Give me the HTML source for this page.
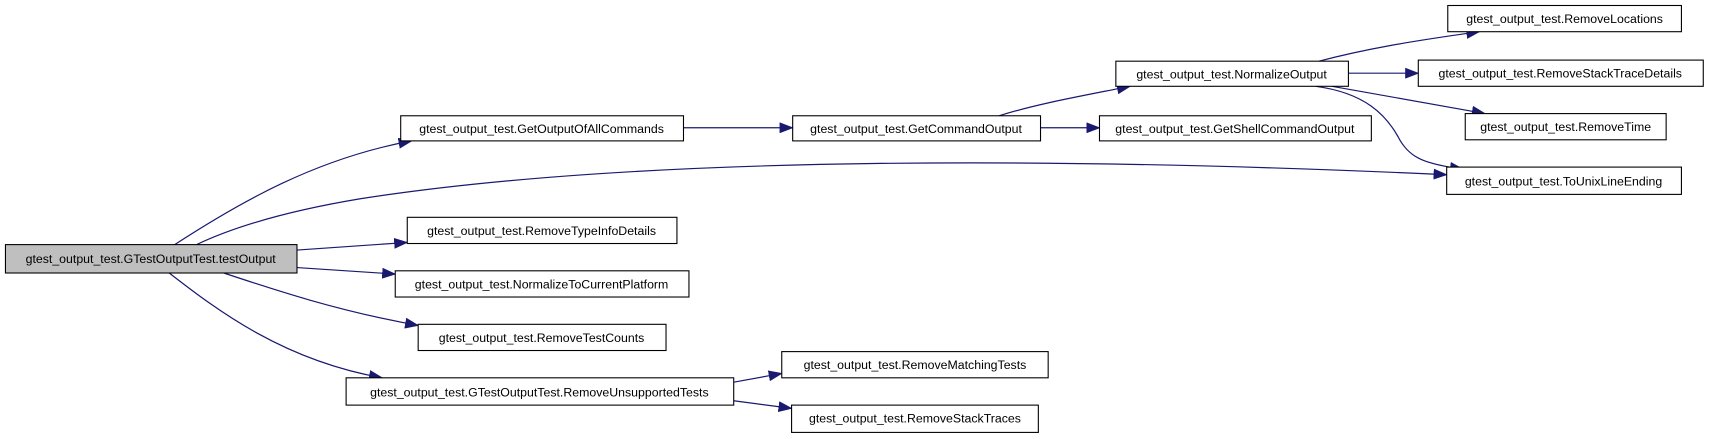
<!DOCTYPE html>
<html><head><meta charset="utf-8"><style>
html,body{margin:0;padding:0;background:#fff;}
svg{display:block;}
text{font-family:"Liberation Sans",sans-serif;font-size:11.3px;fill:#000;}
</style></head><body>
<svg width="1712" height="439" viewBox="0 0 1568 402" xmlns="http://www.w3.org/2000/svg">
<defs><marker id="a" markerWidth="13" markerHeight="10" refX="12" refY="5" orient="auto" markerUnits="userSpaceOnUse"><path d="M0,0 L13,5 L0,10 Z" fill="#191970"/></marker></defs>
<g fill="none" stroke="#191970" stroke-width="1.1" marker-end="url(#a)">
<path d="M160,224 C220,185 290,145 377,129"/>
<path d="M180,224 C220,205 270,192 330,182 C600,140 1000,145 1325,160"/>
<path d="M272,229 L373,222"/>
<path d="M272,245 L362,251"/>
<path d="M205,250 C250,265 310,285 383,298"/>
<path d="M155,250 C200,285 260,330 350,346"/>
<path d="M626,117 L726,117"/>
<path d="M915,106 C950,95 990,88 1035,79"/>
<path d="M953,117 L1007,117"/>
<path d="M1208,56 C1250,45 1290,38 1355,29"/>
<path d="M1235,67 L1299,67"/>
<path d="M1220,79 C1260,86 1300,93 1360,104"/>
<path d="M1205,79 C1250,85 1270,105 1282,128 C1292,145 1305,150 1340,155"/>
<path d="M672,350 L716,342"/>
<path d="M672,367 L725,374"/>
</g>
<g stroke="#000" stroke-width="1" fill="#fff">
<rect x="5" y="224" width="267" height="26" fill="#bfbfbf"/>
<rect x="367" y="106" width="259" height="23"/>
<rect x="726" y="106" width="227" height="23"/>
<rect x="1022" y="56" width="213" height="23"/>
<rect x="1007" y="106" width="249" height="23"/>
<rect x="1326" y="5" width="214" height="24"/>
<rect x="1299" y="55" width="261" height="24"/>
<rect x="1342" y="104" width="184" height="24"/>
<rect x="1325" y="153" width="215" height="25"/>
<rect x="373" y="199" width="247" height="24"/>
<rect x="362" y="248" width="269" height="24"/>
<rect x="383" y="297" width="227" height="24"/>
<rect x="317" y="346" width="355" height="25"/>
<rect x="716" y="322" width="244" height="24"/>
<rect x="725" y="371" width="226" height="25"/>
</g>
<g text-anchor="middle">
<text x="138" y="241">gtest_output_test.GTestOutputTest.testOutput</text>
<text x="496" y="122">gtest_output_test.GetOutputOfAllCommands</text>
<text x="839" y="122">gtest_output_test.GetCommandOutput</text>
<text x="1128" y="72">gtest_output_test.NormalizeOutput</text>
<text x="1131" y="122">gtest_output_test.GetShellCommandOutput</text>
<text x="1433" y="21">gtest_output_test.RemoveLocations</text>
<text x="1429" y="71">gtest_output_test.RemoveStackTraceDetails</text>
<text x="1434" y="120">gtest_output_test.RemoveTime</text>
<text x="1432" y="170">gtest_output_test.ToUnixLineEnding</text>
<text x="496" y="215">gtest_output_test.RemoveTypeInfoDetails</text>
<text x="496" y="264">gtest_output_test.NormalizeToCurrentPlatform</text>
<text x="496" y="313">gtest_output_test.RemoveTestCounts</text>
<text x="494" y="363">gtest_output_test.GTestOutputTest.RemoveUnsupportedTests</text>
<text x="838" y="338">gtest_output_test.RemoveMatchingTests</text>
<text x="838" y="387">gtest_output_test.RemoveStackTraces</text>
</g>
</svg>
</body></html>
